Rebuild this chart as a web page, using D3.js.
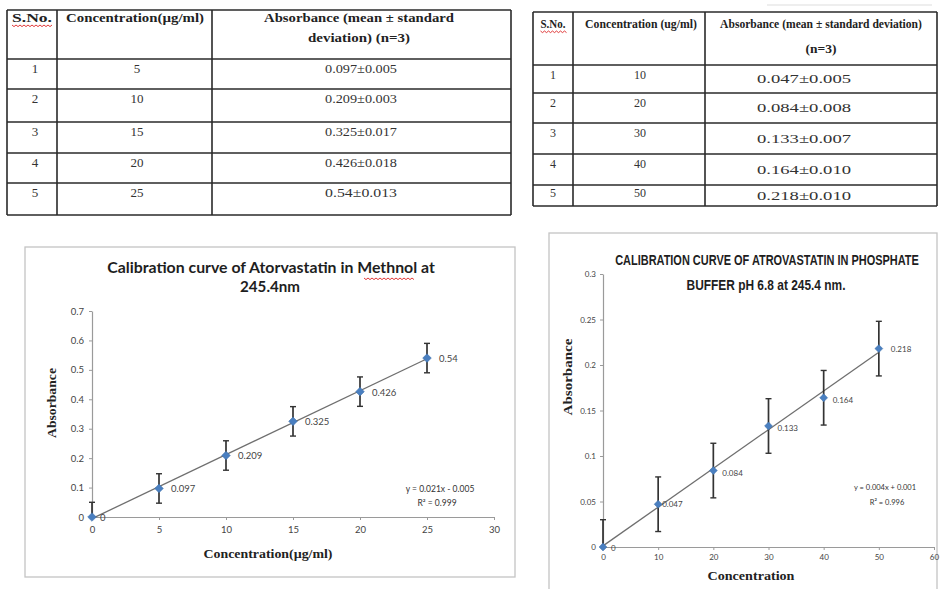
<!DOCTYPE html>
<html><head><meta charset="utf-8">
<script src="https://cdn.jsdelivr.net/npm/d3@7/dist/d3.min.js"></script>
<style>
html,body{margin:0;padding:0;background:#fff;}
svg{display:block;}
</style></head>
<body>
<script>
// ---------- DATA ----------
const sno = [1, 2, 3, 4, 5];
const conc1 = [0, 5, 10, 15, 20, 25];
const abs1 = [0, 0.097, 0.209, 0.325, 0.426, 0.54];
const sd1 = ["0.005", "0.003", "0.017", "0.018", "0.013"];
const err1 = [0.05, 0.05, 0.05, 0.05, 0.05, 0.05];
const xTicks1 = [0, 5, 10, 15, 20, 25, 30];
const yTicks1 = [0, 0.1, 0.2, 0.3, 0.4, 0.5, 0.6, 0.7];
const eq1 = ["y = 0.021x - 0.005", "R² = 0.999"];

const conc2 = [0, 10, 20, 30, 40, 50];
const abs2 = [0, 0.047, 0.084, 0.133, 0.164, 0.218];
const sd2 = ["0.005", "0.008", "0.007", "0.010", "0.010"];
const err2 = [0.03, 0.03, 0.03, 0.03, 0.03, 0.03];
const xTicks2 = [0, 10, 20, 30, 40, 50, 60];
const yTicks2 = [0, 0.05, 0.1, 0.15, 0.2, 0.25, 0.3];
const eq2 = ["y = 0.004x + 0.001", "R² = 0.996"];

const header1 = ["S.No.", "Concentration(µg/ml)", ["Absorbance (mean ± standard", "deviation) (n=3)"]];
const header2 = ["S.No.", "Concentration (ug/ml)", ["Absorbance (mean ± standard deviation)", "(n=3)"]];
const title1 = ["Calibration  curve of Atorvastatin in Methnol at", "245.4nm"];
const title2 = ["CALIBRATION CURVE OF ATROVASTATIN IN PHOSPHATE", "BUFFER pH 6.8  at 245.4 nm."];

// ---------- SVG ----------
const W = 940, H = 589;
const svg = d3.select("body").append("svg").attr("width", W).attr("height", H);
svg.append("rect").attr("width", W).attr("height", H).attr("fill", "#fff");

const serif = "'Liberation Serif','Times New Roman',serif";
const sans = "Lato,'Open Sans','Liberation Sans',sans-serif";

function squiggle(g, x0, x1, y) {
  let d = `M${x0},${y}`;
  for (let x = x0, k = 0; x < x1; x += 2, k++) d += ` L${x + 2},${y + (k % 2 ? 0 : 1.6)}`;
  g.append("path").attr("d", d).attr("fill", "none").attr("stroke", "#d22").attr("stroke-width", 0.9);
}

// text fitted horizontally to a target width with a scale transform
function fitText(g, t, cx, cy, w, attrs) {
  const el = g.append("text").attr("text-anchor", "middle").attr("x", 0).attr("y", 0).text(t);
  Object.entries(attrs).forEach(([k, v]) => el.attr(k, v));
  const nat = el.node().getComputedTextLength() || w;
  el.attr("transform", `translate(${cx},${cy}) scale(${w / nat},1)`);
  return el;
}

// ---------- TABLES ----------
function drawTable(opt) {
  const g = svg.append("g");
  const { cols, rows, header, mean, sd, conc, hdr, fs, fsH, cellY, colX } = opt;
  rows.forEach(y => g.append("line").attr("x1", cols[0]).attr("x2", cols[cols.length - 1])
    .attr("y1", y).attr("y2", y).attr("stroke", "#2a2a2a").attr("stroke-width", 1.6));
  cols.forEach(x => g.append("line").attr("x1", x).attr("x2", x)
    .attr("y1", rows[0]).attr("y2", rows[rows.length - 1]).attr("stroke", "#2a2a2a").attr("stroke-width", 1.6));
  hdr.forEach((h, i) => {
    const lines = Array.isArray(header[i]) ? header[i] : [header[i]];
    lines.forEach((t, j) => {
      fitText(g, t, h.x, h.y[j], h.w[j], {
        "font-family": serif, "font-weight": "bold", "font-size": fsH, fill: "#222"
      });
    });
  });
  const sn = hdr[0];
  squiggle(g, sn.x - sn.w[0] / 2, sn.x + sn.w[0] / 2, sn.y[0] + 3);
  sno.forEach((s, i) => {
    const y0 = rows[i + 1];
    g.append("text").attr("x", colX[0]).attr("y", y0 + cellY[0](i)).attr("text-anchor", "middle")
      .attr("font-family", serif).attr("font-size", fs).attr("fill", "#333").text(s);
    g.append("text").attr("x", colX[1]).attr("y", y0 + cellY[0](i)).attr("text-anchor", "middle")
      .attr("font-family", serif).attr("font-size", fs).attr("fill", "#333").text(conc[i + 1]);
    fitText(g, String(mean[i + 1]) + "±" + sd[i], colX[2], y0 + cellY[1](i), opt.absW, {
      "font-family": serif, "font-size": fs, fill: "#333"
    });
  });
}

const rows1 = [10, 59, 89, 122, 153, 183, 215];
drawTable({
  cols: [7, 57, 212, 511], rows: rows1, header: header1, mean: abs1, sd: sd1, conc: conc1,
  fs: 13, fsH: 13, absW: 72,
  hdr: [{ x: 32, y: [22], w: [40] }, { x: 135, y: [22], w: [138] }, { x: 359, y: [22, 42], w: [190, 102] }],
  colX: [35, 137, 361],
  cellY: [() => 14, () => 14]
});
const rows2 = [12, 65, 93, 123, 154, 185, 206];
drawTable({
  cols: [533, 573, 705, 937], rows: rows2, header: header2, mean: abs2, sd: sd2, conc: conc2,
  fs: 12, fsH: 11.5, absW: 94,
  hdr: [{ x: 553, y: [28], w: [25] }, { x: 641, y: [28], w: [112] }, { x: 821, y: [28, 53], w: [202, 31] }],
  colX: [553, 640, 804],
  cellY: [i => (i === 4 ? 12 : 14), i => (rows2[i + 2] - rows2[i + 1]) / 2 + 4]
});
svg.append("line").attr("x1", 767).attr("x2", 932).attr("y1", 5).attr("y2", 5)
  .attr("stroke", "#ddd").attr("stroke-width", 1);

// ---------- CHARTS ----------
function fit(xs, ys) {
  const mx = d3.mean(xs), my = d3.mean(ys);
  const sxy = d3.sum(xs, (x, i) => (x - mx) * (ys[i] - my));
  const sxx = d3.sum(xs, x => (x - mx) * (x - mx));
  const m = sxy / sxx;
  return { m, b: my - m * mx };
}

function drawChart(o) {
  const g = svg.append("g");
  g.append("rect").attr("x", o.box[0]).attr("y", o.box[1]).attr("width", o.box[2] - o.box[0])
    .attr("height", o.box[3] - o.box[1]).attr("fill", "#fff").attr("stroke", "#c4c4c4").attr("stroke-width", 1.3);
  const x = d3.scaleLinear().domain([0, d3.max(o.xTicks)]).range([o.plot[0], o.plot[2]]);
  const y = d3.scaleLinear().domain([0, d3.max(o.yTicks)]).range([o.plot[3], o.plot[1]]);

  const xa = g.append("g").attr("transform", `translate(0,${y(0)})`)
    .call(d3.axisBottom(x).tickValues(o.xTicks).tickSize(3).tickSizeOuter(0).tickFormat(d3.format("")));
  const ya = g.append("g").attr("transform", `translate(${x(0)},0)`)
    .call(d3.axisLeft(y).tickValues(o.yTicks).tickSize(3).tickSizeOuter(0).tickFormat(d => String(+d.toFixed(2))));
  [xa, ya].forEach(a => {
    a.select(".domain").attr("stroke", "#9a9a9a").attr("stroke-width", 1.2);
    a.selectAll(".tick line").attr("stroke", "#9a9a9a");
    a.selectAll("text").attr("font-family", sans).attr("font-size", o.tickFs).attr("fill", "#444");
  });
  xa.selectAll("text").attr("dy", null).attr("y", o.xLabDy);
  ya.selectAll("text").attr("x", -o.yLabDx);

  const f = fit(o.xs, o.ys);
  const x0 = 0, x1 = d3.max(o.xs);
  g.append("line").attr("x1", x(x0)).attr("y1", y(f.m * x0 + f.b))
    .attr("x2", x(x1)).attr("y2", y(f.m * x1 + f.b))
    .attr("stroke", "#6f6f6f").attr("stroke-width", 1.3);

  o.xs.forEach((xv, i) => {
    const lo = Math.max(0, o.ys[i] - o.err[i]), hi = o.ys[i] + o.err[i];
    const px = x(xv);
    g.append("line").attr("x1", px).attr("x2", px).attr("y1", y(lo)).attr("y2", y(hi))
      .attr("stroke", "#333").attr("stroke-width", 1.7);
    [hi, lo].forEach((v, k) => {
      if (k === 1 && o.ys[i] - o.err[i] < 0) return;
      g.append("line").attr("x1", px - 3).attr("x2", px + 3).attr("y1", y(v)).attr("y2", y(v))
        .attr("stroke", "#333").attr("stroke-width", 1.4);
    });
  });

  g.selectAll("path.pt").data(o.xs).join("path").attr("class", "pt")
    .attr("d", d3.symbol(d3.symbolDiamond2, o.mk)())
    .attr("transform", (d, i) => `translate(${x(d)},${y(o.ys[i])})`)
    .attr("fill", "#4a7fc0").attr("stroke", "#3d6ea8").attr("stroke-width", 0.5);

  o.xs.forEach((xv, i) => {
    const off = o.labOff(i);
    g.append("text").attr("x", x(xv) + off[0]).attr("y", y(o.ys[i]) + off[1])
      .attr("font-family", sans).attr("font-size", o.labFs).attr("fill", "#444").text(String(o.ys[i]));
  });

  o.eq.forEach((t, j) => {
    g.append("text").attr("x", o.eqPos[j][0]).attr("y", o.eqPos[j][1]).attr("text-anchor", "middle")
      .attr("font-family", sans).attr("font-size", o.eqFs).attr("fill", "#333").text(t);
  });

  o.title.forEach((t, j) => {
    fitText(g, t, o.titlePos[j][0], o.titlePos[j][1], o.titleW[j], {
      "font-family": o.titleFont, "font-weight": o.titleWeight, "font-size": o.titleFs, fill: "#1e1e1e"
    });
  });
  if (o.squig) squiggle(g, o.squig[0], o.squig[1], o.squig[2]);

  const yt = fitText(g, "Absorbance", 0, 0, o.yTitle[2], {
    "font-family": serif, "font-weight": "bold", "font-size": o.axFs, fill: "#222"
  });
  yt.attr("transform", `translate(${o.yTitle[0]},${o.yTitle[1]}) rotate(-90) ` +
    yt.attr("transform").replace(/translate\([^)]*\)\s*/, ""));
  fitText(g, o.xTitle[3], o.xTitle[0], o.xTitle[1], o.xTitle[2], {
    "font-family": serif, "font-weight": "bold", "font-size": o.axFs, fill: "#222"
  });
}

drawChart({
  box: [25, 247, 515, 577], plot: [92, 311, 494, 517],
  xTicks: xTicks1, yTicks: yTicks1, xs: conc1, ys: abs1, err: err1,
  tickFs: 9.5, xLabDy: 16, yLabDx: 8, mk: 48, labFs: 9.5,
  labOff: i => (i === 0 ? [8, 4] : [12, 4]),
  eq: eq1, eqPos: [[440, 492], [437, 506]], eqFs: 8.5,
  title: title1, titlePos: [[271, 273], [270, 292]], titleW: [328, 60],
  titleFont: sans, titleWeight: "bold", titleFs: 15,
  squig: [364, 413, 278],
  yTitle: [56, 403, 70], xTitle: [268, 558, 129, "Concentration(µg/ml)"], axFs: 13
});

drawChart({
  box: [549, 233, 937, 600], plot: [603, 274, 934, 547],
  xTicks: xTicks2, yTicks: yTicks2, xs: conc2, ys: abs2, err: err2,
  tickFs: 8, xLabDy: 13, yLabDx: 7, mk: 40, labFs: 8,
  labOff: i => (i === 0 ? [8, 4] : i === 1 ? [4, 3] : i === 5 ? [12, 3] : [9, 5]),
  eq: eq2, eqPos: [[885, 490], [887, 505]], eqFs: 7.5,
  title: title2, titlePos: [[767, 265], [766, 290]], titleW: [304, 159],
  titleFont: "'Liberation Sans Narrow','Arial Narrow','Liberation Sans',sans-serif", titleWeight: "bold", titleFs: 14,
  squig: null,
  yTitle: [572, 377, 77], xTitle: [751, 580, 87, "Concentration"], axFs: 13
});
</script>
</body></html>
